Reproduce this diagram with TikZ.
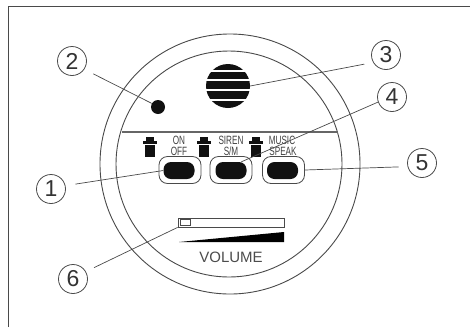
\documentclass[tikz,border=0pt]{standalone}
\usepackage{fontspec}
\setmainfont{Liberation Sans}
\definecolor{ink}{HTML}{4A4A4A}
\definecolor{solid}{HTML}{111111}
\tikzset{
  x=1pt,y=-1pt,
  ring/.style={draw=ink,line width=0.9pt,fill=none},
  leader/.style={draw=ink,line width=0.7pt},
  callout/.style={circle,draw=ink,line width=0.8pt,minimum size=29pt,inner sep=0pt,font=\fontsize{23}{23}\selectfont,text=black!80},
  capbtn/.style={rounded corners=8.5pt,draw=ink,line width=0.8pt,minimum width=42pt,minimum height=27pt,inner sep=0pt},
  keybtn/.style={rounded corners=7.5pt,fill=solid,minimum width=31pt,minimum height=17pt,inner sep=0pt},
  tag/.style={font=\fontsize{12}{12}\selectfont,text=black!75,inner sep=0pt,xscale=0.68},
  lamp/.style={fill=solid},
  speakerline/.style={draw=white,line width=2pt}
}
\begin{document}
\begin{tikzpicture}
\useasboundingbox (0,0) rectangle (470,327);
\fill[white] (0,0) rectangle (470,327);
% frame
\draw[ink,line width=1pt] (8.5,327) -- (8.5,6) -- (470,6);
% rings
\draw[ring] (230,164) circle[radius=130];
\draw[ring] (229,164) circle[radius=113];
% divider
\draw[draw=black!60,line width=1.2pt] (122,132) -- (338,132);
% speaker
\node[circle,fill=solid,minimum size=44pt,inner sep=0pt] (spk) at (228,86) {};
\foreach \yy in {71,80,90,99.5}{ \draw[speakerline] (204,\yy) -- (252,\yy); }
% LED
\node[circle,fill=solid,minimum size=14pt,inner sep=0pt] (led) at (158,107) {};
% lamps
\foreach \xx in {150,204,256}{
  \fill[lamp] (\xx-4,137) rectangle (\xx+4,141);
  \fill[lamp] (\xx-7,141) rectangle (\xx+7,144);
  \fill[lamp] (\xx-5,145) rectangle (\xx+5,157);
}
% labels
\node[tag] (on) at (179,140) {ON};
\node[tag] (off) at (179,151) {OFF};
\node[tag] (siren) at (231,140) {SIREN};
\node[tag] (sm) at (231,151) {S/M};
\node[tag] (music) at (282,140) {MUSIC};
\node[tag] (speak) at (283,151) {SPEAK};
% buttons
\node[capbtn] (o1) at (180,170) {};
\node[keybtn] (b1) at (179,170.5) {};
\node[capbtn] (o2) at (231,170) {};
\node[keybtn] (b2) at (231,170.5) {};
\node[capbtn] (o3) at (283.5,170) {};
\node[keybtn] (b3) at (282.5,170.5) {};
% volume
\node[draw=ink,line width=0.8pt,minimum width=106pt,minimum height=9pt,inner sep=0pt] (bar) at (231,222.5) {};
\node[draw=ink,line width=0.7pt,minimum width=10pt,minimum height=6pt,inner sep=0pt] (knob) at (185,222.5) {};
\fill[solid] (179,242) -- (284,232) -- (284,242) -- cycle;
\node[font=\fontsize{15}{15}\selectfont,text=black!70,inner sep=0pt] (vol) at (231,257) {VOLUME};
% callouts
\node[callout] (c1) at (51,189) {1};
\node[callout] (c2) at (72,61) {2};
\node[callout] (c3) at (386,55) {3};
\node[callout] (c4) at (392,97) {4};
\node[callout] (c5) at (422,163) {5};
\node[callout] (c6) at (73,279) {6};
% leaders
\draw[leader,shorten <=10pt] (c1.13) -- (b1.west);
\draw[leader,shorten <=10pt] (c2.-34) -- (led.150);
\draw[leader,shorten <=9pt] (c3.210) -- (spk.east);
\draw[leader] (c4.200) -- (b2.40);
\draw[leader,shorten <=9pt] (c5.194) -- (o3.east);
\draw[leader,shorten <=9pt] (c6.30) -- (bar.south west);
\end{tikzpicture}
\end{document}
